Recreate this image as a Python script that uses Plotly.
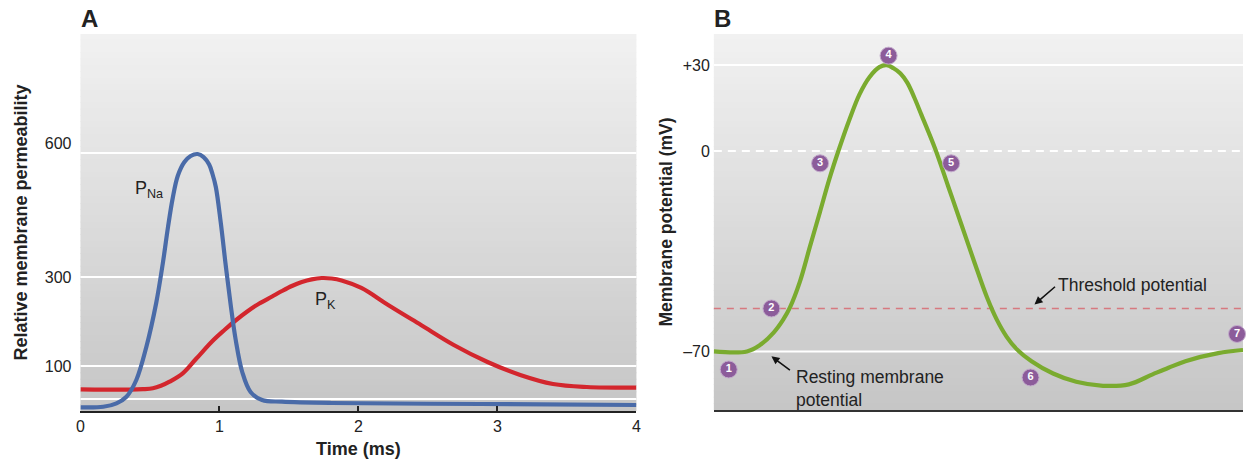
import plotly.graph_objects as go

# ---------------- Panel A data (time in ms, relative permeability) ----------------
pna_t = [0, 0.164, 0.259, 0.331, 0.402, 0.474, 0.545, 0.593, 0.629, 0.664, 0.700, 0.748,
         0.793, 0.843, 0.886, 0.926, 0.95, 0.974, 1.009, 1.045, 1.081, 1.116, 1.164,
         1.224, 1.307, 1.45, 1.807, 2.879, 4.0]
pna_v = [8.3, 9.6, 17.2, 32.0, 69.4, 143.3, 241.8, 331.3, 409.7, 476.8, 526.1, 557.4,
         570.9, 575.3, 568.6, 551.8, 530.6, 501.5, 423.1, 326.9, 237.3, 161.2, 87.3,
         42.5, 24.6, 20.8, 17.9, 15.7, 13.4]

pk_t = [0, 0.355, 0.45, 0.521, 0.579, 0.641, 0.736, 0.831, 0.95, 1.036, 1.116, 1.2,
        1.284, 1.379, 1.45, 1.521, 1.593, 1.664, 1.736, 1.807, 1.879, 2.021, 2.214,
        2.45, 2.686, 2.929, 3.164, 3.40, 3.643, 4.0]
pk_v = [48.6, 47.9, 48.8, 50.8, 56.4, 65.6, 84.4, 116.4, 156.7, 181.3, 202.6, 222.8,
        240.2, 256.3, 268.6, 279.8, 288.8, 294.8, 297.7, 296.6, 292.1, 275.4, 237.3,
        192.5, 147.8, 109.7, 80.6, 60.4, 53.7, 52.2]

a_xticks = [0, 1, 2, 3, 4]
a_yticks = [100, 300, 600]
a_gridlines = [26.9, 100.7, 300, 577.6]

# ---------------- Panel B data (time in ms, membrane potential in mV) ----------------
mp_t = [0, 0.333, 0.467, 0.6, 0.7, 0.767, 0.867, 0.967, 1.067, 1.167, 1.267, 1.367,
        1.467, 1.567, 1.667, 1.74, 1.81, 1.88, 1.95, 2.02, 2.09, 2.23, 2.36, 2.49,
        2.62, 2.75, 2.85, 2.95, 3.05, 3.20, 3.417, 3.65, 3.92, 4.18, 4.42, 4.58,
        4.75, 5.08, 5.33]
mp_v = [-70.0, -70.0, -67.7, -63.5, -58.8, -54.6, -45.6, -33.5, -21.5, -9.4, 1.3, 11.1,
        19.8, 25.8, 29.3, 30.0, 28.9, 27.1, 23.8, 18.6, 12.7, 0.7, -12.3, -25.3,
        -38.4, -51.0, -58.9, -64.9, -69.2, -73.4, -77.7, -80.6, -82.0, -81.5, -78.0,
        -75.7, -73.4, -70.6, -69.5]

phase_labels = ["1", "2", "3", "4", "5", "6", "7"]
phase_t = [0.15, 0.58, 1.07, 1.76, 2.39, 3.19, 5.27]
phase_v = [-76.3, -55.0, -4.3, 33.3, -4.3, -79.1, -63.9]

b_yticks = [-70, 0, 30]
b_yticktext = ["\u201370", "0", "+30"]
threshold_mv = -55
resting_mv = -70
peak_mv = 30

FONT = "Liberation Sans, Arial, sans-serif"
BLUE = "#4a6ba8"
RED = "#d3262d"
GREEN = "#7aab2f"
PURPLE = "#8c5c9a"
TXT = "#222222"

fig = go.Figure()

fig.add_trace(go.Scatter(x=pk_t, y=pk_v, mode="lines",
                         line=dict(color=RED, width=4.2, shape="spline", smoothing=1.0),
                         xaxis="x", yaxis="y", showlegend=False, hoverinfo="skip"))
fig.add_trace(go.Scatter(x=pna_t, y=pna_v, mode="lines",
                         line=dict(color=BLUE, width=4.2, shape="spline", smoothing=1.0),
                         xaxis="x", yaxis="y", showlegend=False, hoverinfo="skip"))
fig.add_trace(go.Scatter(x=mp_t, y=mp_v, mode="lines",
                         line=dict(color=GREEN, width=4.2, shape="spline", smoothing=1.0),
                         xaxis="x2", yaxis="y2", showlegend=False, hoverinfo="skip"))
fig.add_trace(go.Scatter(x=phase_t, y=phase_v, mode="markers+text",
                         text=[f"<b>{s}</b>" for s in phase_labels],
                         textposition="middle center",
                         textfont=dict(color="white", size=11, family=FONT),
                         marker=dict(size=17, color=PURPLE, line=dict(color="#c2aacb", width=1)),
                         xaxis="x2", yaxis="y2", showlegend=False, hoverinfo="skip", cliponaxis=False))

shapes = []
# vertical grey gradient behind both panels
nb = 60
top = (241, 241, 241)
bot = (198, 198, 198)
for xr, yr in (("x domain", "y domain"), ("x2 domain", "y2 domain")):
    for i in range(nb):
        f = i / (nb - 1)
        c = tuple(round(top[k] + (bot[k] - top[k]) * f) for k in range(3))
        shapes.append(dict(type="rect", xref=xr, yref=yr, x0=0, x1=1,
                           y0=max(0, 1 - (i + 1) / nb), y1=min(1, 1 - i / nb + 0.002),
                           fillcolor="rgb(%d,%d,%d)" % c, line=dict(width=0), layer="below"))
# panel A gridlines
for g in a_gridlines:
    shapes.append(dict(type="line", xref="x domain", yref="y", x0=0, x1=1, y0=g, y1=g,
                       line=dict(color="white", width=2), layer="below"))
# panel B gridlines
shapes.append(dict(type="line", xref="x2 domain", yref="y2", x0=0, x1=1, y0=peak_mv, y1=peak_mv,
                   line=dict(color="white", width=2), layer="below"))
shapes.append(dict(type="line", xref="x2 domain", yref="y2", x0=0, x1=1, y0=0, y1=0,
                   line=dict(color="white", width=2.2, dash="8px,6px"), layer="below"))
shapes.append(dict(type="line", xref="x2 domain", yref="y2", x0=0, x1=1, y0=resting_mv, y1=resting_mv,
                   line=dict(color="white", width=2), layer="below"))
shapes.append(dict(type="line", xref="x2 domain", yref="y2", x0=0, x1=1, y0=threshold_mv, y1=threshold_mv,
                   line=dict(color="#d7797f", width=1.4, dash="7px,6px"), layer="below"))

annotations = [
    dict(text="<b>A</b>", xref="paper", yref="paper", x=76 / 1248, y=1 - 19 / 460,
         xanchor="left", yanchor="middle", showarrow=False, font=dict(size=24, family=FONT, color=TXT)),
    dict(text="<b>B</b>", xref="paper", yref="paper", x=713 / 1248, y=1 - 19 / 460,
         xanchor="left", yanchor="middle", showarrow=False, font=dict(size=24, family=FONT, color=TXT)),
    dict(text="P<sub>Na</sub>", xref="x", yref="y", x=0.49, y=494.8, showarrow=False,
         font=dict(size=18, family=FONT, color=TXT)),
    dict(text="P<sub>K</sub>", xref="x", yref="y", x=1.76, y=248.5, showarrow=False,
         font=dict(size=18, family=FONT, color=TXT)),
    dict(text="Resting membrane<br>potential", xref="x2", yref="y2", x=0.81, y=-74.6,
         xanchor="left", yanchor="top", align="left", showarrow=False,
         font=dict(size=17.5, family=FONT, color=TXT)),
    dict(text="", xref="x2", yref="y2", x=0.58, y=-71.7, ax=20, ay=15, showarrow=True,
         arrowhead=2, arrowsize=1, arrowwidth=1.6, arrowcolor="#111"),
    dict(text="Threshold potential", xref="x2", yref="y2", x=3.45, y=-46.7,
         xanchor="left", yanchor="middle", showarrow=False,
         font=dict(size=17.5, family=FONT, color=TXT)),
    dict(text="", xref="x2", yref="y2", x=3.23, y=-53.6, ax=22, ay=-19, showarrow=True,
         arrowhead=2, arrowsize=1, arrowwidth=1.6, arrowcolor="#111"),
]

fig.update_layout(
    width=1248, height=460,
    margin=dict(l=0, r=0, t=0, b=0),
    paper_bgcolor="white", plot_bgcolor="white",
    font=dict(family=FONT, color=TXT, size=16),
    xaxis=dict(domain=[77 / 1248, 637 / 1248], range=[0, 4], tickvals=a_xticks, ticks="inside",
               ticklen=5, tickwidth=1.5, tickcolor="#222", showline=True, linecolor="#222",
               linewidth=2, showgrid=False, zeroline=False, tickfont=dict(size=16), anchor="y",
               title=dict(text="<b>Time (ms)</b>", font=dict(size=18), standoff=8)),
    yaxis=dict(domain=[1 - 411 / 460, 1 - 34 / 460], range=[0, 844], tickvals=a_yticks, ticks="",
               showline=False, showgrid=False, zeroline=False, tickfont=dict(size=16),
               ticklabelstandoff=8, anchor="x",
               title=dict(text="<b>Relative membrane permeability</b>", font=dict(size=18), standoff=12)),
    xaxis2=dict(domain=[715 / 1248, 1.0], range=[0, 5.33], showticklabels=False, ticks="",
                showline=True, linecolor="#333", linewidth=2, showgrid=False, zeroline=False,
                anchor="y2"),
    yaxis2=dict(domain=[1 - 410 / 460, 1 - 34 / 460], range=[-90.46, 40.87], tickvals=b_yticks,
                ticktext=b_yticktext, ticks="", showline=False, showgrid=False, zeroline=False,
                tickfont=dict(size=16), ticklabelstandoff=3, anchor="x2",
                title=dict(text="<b>Membrane potential (mV)</b>", font=dict(size=17.5), standoff=5)),
    shapes=shapes,
    annotations=annotations,
)

fig.write_html("out.html", config={"displayModeBar": False},
               post_script="document.body.style.margin='0';document.body.style.overflow='hidden';")
